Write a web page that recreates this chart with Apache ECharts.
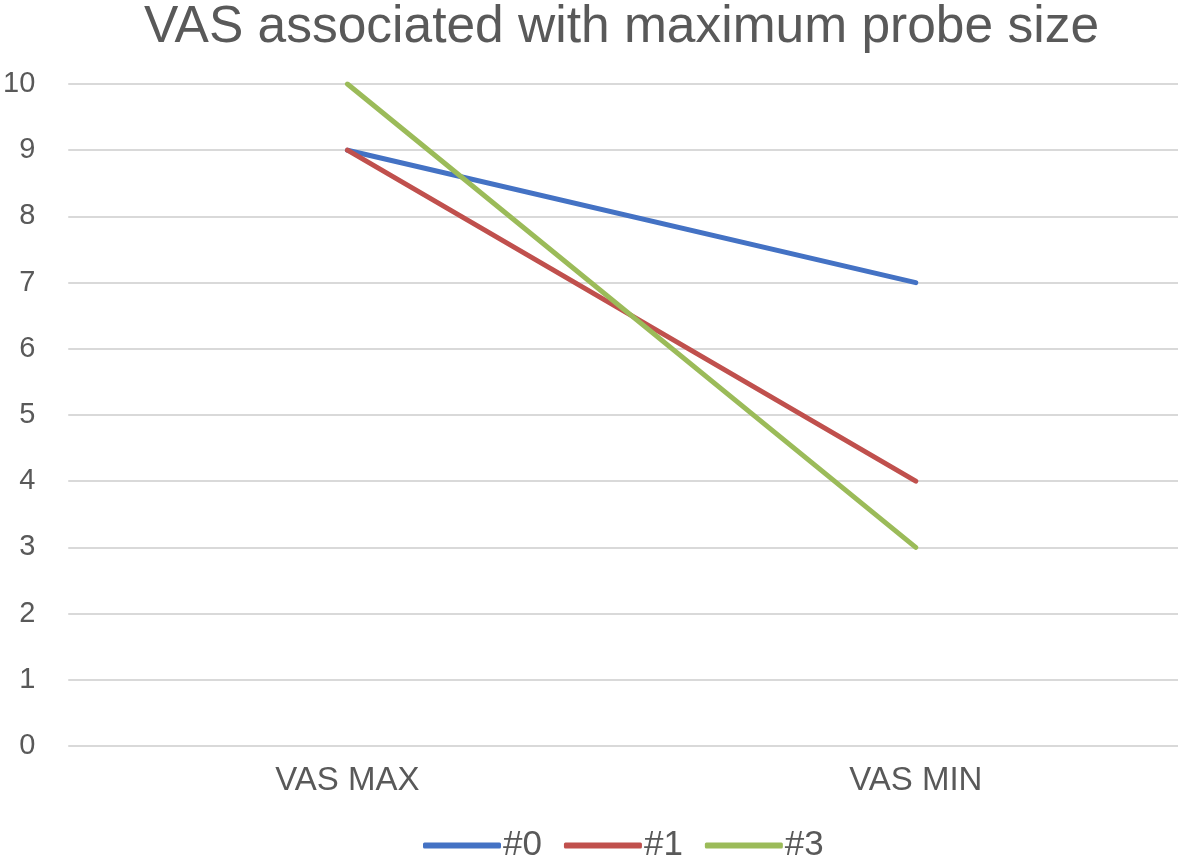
<!DOCTYPE html>
<html>
<head>
<meta charset="utf-8">
<script src="https://cdn.jsdelivr.net/npm/echarts@6/dist/echarts.min.js"></script>
<style>
html,body{margin:0;padding:0;background:#fff;}
#chart{width:1181px;height:858px;}
</style>
</head>
<body>
<div id="chart"></div>
<script>
const title = 'VAS associated with maximum probe size';
const categories = ['VAS MAX', 'VAS MIN'];
const seriesNames = ['#0', '#1', '#3'];
const values0 = [9, 7];
const values1 = [9, 4];
const values3 = [10, 3];
const yTicks = [0, 1, 2, 3, 4, 5, 6, 7, 8, 9, 10];

const colors = ['#4472C4', '#C0504D', '#9BBB59'];
const allValues = [values0, values1, values3];
const FONT = '"Liberation Sans", Arial, sans-serif';

const chart = echarts.init(document.getElementById('chart'), null, {renderer: 'canvas'});
chart.setOption({
  backgroundColor: '#ffffff',
  animation: false,
  title: {
    text: title,
    left: 139,
    top: -3,
    textStyle: {fontFamily: FONT, fontSize: 51.5, fontWeight: 'normal', color: '#595959'}
  },
  legend: {
    data: seriesNames,
    left: 418,
    top: 823,
    icon: 'roundRect',
    itemWidth: 78,
    itemHeight: 6,
    itemGap: 22,
    textStyle: {fontFamily: FONT, fontSize: 35, color: '#595959', padding: [0,0,0,-3]}
  },
  grid: {left: 65, right: 3, top: 84, bottom: 112, containLabel: false},
  xAxis: {
    type: 'value',
    min: -0.4912,
    max: 1.4614,
    axisLine: {show: false},
    axisTick: {show: false},
    splitLine: {show: false},
    axisLabel: {
      customValues: categories.map((c, i) => i),
      formatter: v => categories[Math.round(v)],
      fontFamily: FONT, fontSize: 33, color: '#595959', margin: 18
    }
  },
  yAxis: {
    type: 'value',
    min: yTicks[0],
    max: yTicks[yTicks.length - 1],
    interval: 1,
    axisLine: {show: false},
    axisTick: {show: false},
    splitLine: {lineStyle: {color: '#d9d9d9', width: 2}},
    axisLabel: {fontFamily: FONT, fontSize: 29, color: '#595959', margin: 33}
  },
  series: seriesNames.map((name, si) => ({
    name: name,
    type: 'line',
    data: allValues[si].map((v, i) => [i, v]),
    symbol: 'none',
    lineStyle: {color: colors[si], width: 5, cap: 'round'},
    itemStyle: {color: colors[si]},
    z: 2 + si
  }))
});
</script>
</body>
</html>
